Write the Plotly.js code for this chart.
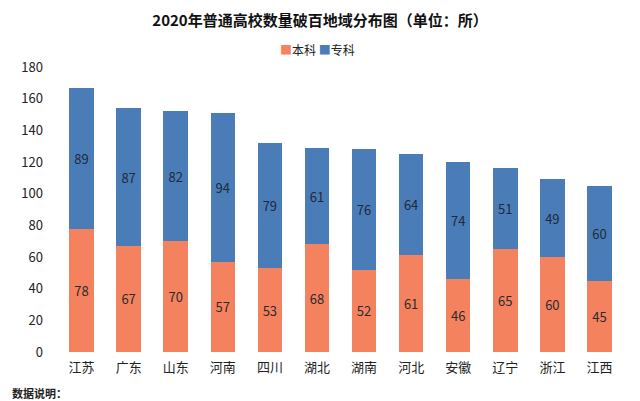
<!DOCTYPE html>
<html><head><meta charset="utf-8">
<script src="https://cdn.plot.ly/plotly-3.0.1.min.js"></script>
<style>html,body{margin:0;padding:0;background:#fff}</style>
</head><body><div id="chart" style="width:640px;height:401px"></div>
<script>
var categories = ['江苏','广东','山东','河南','四川','湖北','湖南','河北','安徽','辽宁','浙江','江西'];
var benke = [78,67,70,57,53,68,52,61,46,65,60,45];
var zhuanke = [89,87,82,94,79,61,76,64,74,51,49,60];
var yTicks = [0,20,40,60,80,100,120,140,160,180];
var seriesNames = ['本科','专科'];
var seriesColors = ['#F5825F','#4A7DB8'];

var font = 'Noto Sans CJK SC, sans-serif';
var traces = [
  {type:'bar', name:seriesNames[0], x:categories, y:benke, text:benke.map(String),
   textposition:'inside', insidetextanchor:'middle', textangle:0,
   textfont:{color:'#2b2b2b', size:13, family:font},
   marker:{color:seriesColors[0]}},
  {type:'bar', name:seriesNames[1], x:categories, y:zhuanke, text:zhuanke.map(String),
   textposition:'inside', insidetextanchor:'middle', textangle:0,
   textfont:{color:'#1f2a3a', size:13, family:font},
   marker:{color:seriesColors[1]}}
];
var legendText = seriesNames.map(function(n,i){
  return '<span style="color:'+seriesColors[i]+'">■</span>'+n;
}).join(' ');
var layout = {
  width:640, height:401, barmode:'stack', bargap:0.48,
  paper_bgcolor:'#fff', plot_bgcolor:'#fff',
  margin:{l:58, r:17, t:67, b:49},
  font:{family:font, color:'#222', size:13},
  title:{text:'<b>2020年普通高校数量破百地域分布图（单位：所）</b>', x:0.5, xanchor:'center', y:0.948, yanchor:'middle', font:{size:15, family:font, color:'#111'}},
  showlegend:false,
  xaxis:{tickfont:{size:13, family:font, color:'#222'}, showline:false, ticks:'', ticklabelstandoff:6},
  yaxis:{range:[0,180], tickvals:yTicks, showgrid:false, zeroline:false, showline:false, ticks:'', ticklabelstandoff:14, tickfont:{size:13, family:font, color:'#222'}},
  annotations:[
    {text:legendText, xref:'paper', yref:'paper', x:0.46, xanchor:'center', y:1.06, yanchor:'middle', showarrow:false, font:{size:12, family:font, color:'#222'}},
    {text:'<b>数据说明：</b>', xref:'paper', yref:'paper', x:-0.085, xanchor:'left', y:-0.145, yanchor:'middle', showarrow:false, font:{size:11, family:font, color:'#222'}}
  ]
};
Plotly.newPlot('chart', traces, layout, {displayModeBar:false, staticPlot:true});
</script></body></html>
